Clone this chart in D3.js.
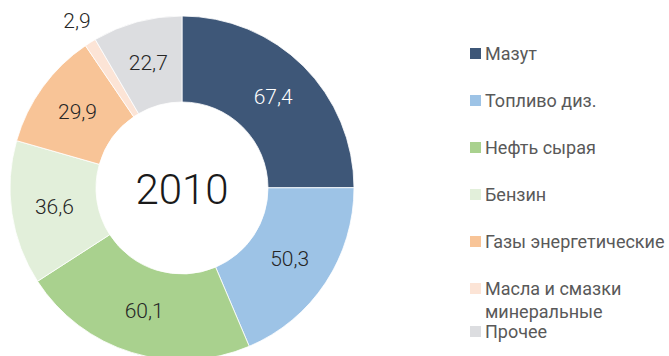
<!DOCTYPE html>
<html>
<head>
<meta charset="utf-8">
<script src="https://cdn.jsdelivr.net/npm/d3@7"></script>
<style>
  html, body { margin: 0; padding: 0; background: #fff; }
  svg { display: block; }
</style>
</head>
<body>
<svg id="chart" width="669" height="356"></svg>
<script>
// Fuel structure, 2010
const categories = ["Мазут", "Топливо диз.", "Нефть сырая", "Бензин", "Газы энергетические", "Масла и смазки минеральные", "Прочее"];
const values = [67.4, 50.3, 60.1, 36.6, 29.9, 2.9, 22.7];
const valueLabels = ["67,4", "50,3", "60,1", "36,6", "29,9", "2,9", "22,7"];
const colors = ["#3e5778", "#9dc3e6", "#a9d18e", "#e2efda", "#f8c497", "#fce4d6", "#dcdde0"];
const legendLines = [["Мазут"], ["Топливо диз."], ["Нефть сырая"], ["Бензин"], ["Газы энергетические"], ["Масла и смазки", "минеральные"], ["Прочее"]];
const centerTitle = "2010";

const svg = d3.select("#chart");
const cx = 182, cy = 188, rOuter = 172, rInner = 86;
const font = "Roboto, 'DejaVu Sans', sans-serif";

const data = categories.map((c, i) => ({ name: c, value: values[i], label: valueLabels[i], color: colors[i] }));
const pie = d3.pie().value(d => d.value).sort(null);
const arc = d3.arc().innerRadius(rInner).outerRadius(rOuter);
const outerLabelArc = d3.arc().innerRadius(197).outerRadius(197);

const g = svg.append("g").attr("transform", `translate(${cx},${cy})`);
const arcs = pie(data);

g.selectAll("path").data(arcs).join("path")
  .attr("d", arc)
  .attr("fill", d => d.data.color)
  .attr("stroke", "#fff")
  .attr("stroke-width", 0.8);

g.selectAll("text.val").data(arcs).join("text")
  .attr("class", "val")
  .attr("transform", d => {
    const small = d.data.value < 5;
    const p = small ? outerLabelArc.centroid(d) : arc.centroid(d);
    return `translate(${p[0]},${p[1]})`;
  })
  .attr("text-anchor", "middle")
  .attr("dominant-baseline", "central")
  .attr("font-family", font)
  .attr("font-weight", 300)
  .attr("font-size", 21)
  .attr("fill", (d, i) => i === 0 ? "#ffffff" : "#262626")
  .text(d => d.data.label);

g.append("text")
  .attr("text-anchor", "middle")
  .attr("dominant-baseline", "central")
  .attr("y", 1)
  .attr("font-family", font)
  .attr("font-weight", 300)
  .attr("font-size", 42)
  .attr("fill", "#1a1a1a")
  .text(centerTitle);

// Legend
const legendY = [53, 100, 147, 194, 241, 288, 331];
const lg = svg.append("g");
data.forEach((d, i) => {
  const y = legendY[i];
  lg.append("rect")
    .attr("x", 470).attr("y", y - 5)
    .attr("width", 11).attr("height", 11)
    .attr("fill", d.color);
  legendLines[i].forEach((line, j) => {
    lg.append("text")
      .attr("x", 485).attr("y", y + j * 23)
      .attr("dominant-baseline", "central")
      .attr("font-family", font)
      .attr("font-size", 18)
      .attr("fill", "#595959")
      .text(line);
  });
});
</script>
</body>
</html>
